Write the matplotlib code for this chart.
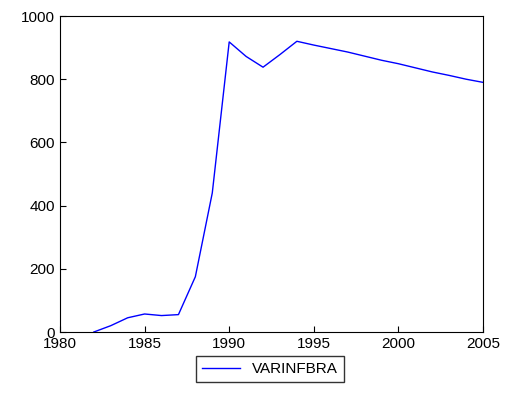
import numpy as np
import matplotlib.pyplot as plt

plt.rcParams['font.family'] = ['Liberation Sans', 'DejaVu Sans']

years = list(range(1982, 2006))
varinfbra = [0, 20, 45, 57, 52, 55, 175, 440, 918, 872, 838, 878, 920,
             908, 897, 886, 873, 860, 849, 836, 823, 812, 800, 790]

fig = plt.figure(figsize=(5.05, 4.11), dpi=100)
ax = fig.add_axes([60/505, 1-332/411, 423/505, 316/411])
line, = ax.plot(years, varinfbra, color='blue', lw=1, label='VARINFBRA')
ax.set_xlim(1980, 2005)
ax.set_ylim(0, 1000)
ax.set_xticks(range(1980, 2006, 5))
ax.set_yticks(range(0, 1001, 200))
ax.tick_params(direction='in', labelsize=11, length=4)
fig.legend(handles=[line], loc='center', bbox_to_anchor=(270/505, 1-369/411),
           frameon=True, fancybox=False, edgecolor='black', fontsize=11,
           handlelength=2.5)
fig.savefig('out.png', dpi=100)
